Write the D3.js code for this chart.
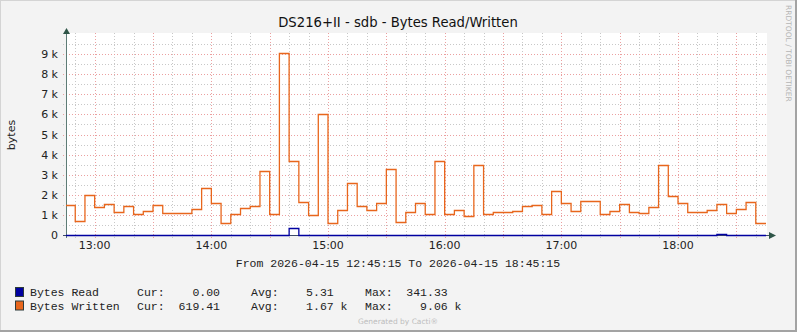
<!DOCTYPE html>
<html>
<head>
<meta charset="utf-8">
<script src="https://cdn.jsdelivr.net/npm/d3@7"></script>
<style>
  body { margin: 0; background: #fff; }
  svg { display: block; }
</style>
</head>
<body>
<svg id="chart"></svg>
<script>
// Data section ****************************************************************
const title = "DS216+II - sdb - Bytes Read/Written";
const startTime = "2026-04-15 12:45:15";
const endTime = "2026-04-15 18:45:15";
const firstSample = "2026-04-15 12:45:00"; // 5 minute samples from here
const stepMinutes = 5;

// Bytes written per 5 min sample
const bytesWritten = [
  1470, 680, 1980, 1380, 1530, 1130, 1430, 1030, 1180, 1480,
  1080, 1080, 1080, 1280, 2350, 1580, 580, 1030, 1350, 1430,
  3200, 1030, 9060, 3680, 1630, 980, 6000, 580, 1230, 2580,
  1430, 1230, 1580, 3280, 630, 1130, 1580, 1030, 3680, 1030,
  1230, 930, 3480, 1030, 1130, 1130, 1180, 1430, 1480, 1030,
  2180, 1580, 1180, 1680, 1680, 1030, 1180, 1530, 1130, 1080,
  1380, 3480, 1930, 1580, 1130, 1130, 1230, 1530, 1080, 1280,
  1630, 619.41
];
// Bytes read: zero except two small blips
const bytesRead = [
  0, 0, 0, 0, 0, 0, 0, 0, 0, 0,
  0, 0, 0, 0, 0, 0, 0, 0, 0, 0,
  0, 0, 0, 341.33, 0, 0, 0, 0, 0, 0,
  0, 0, 0, 0, 0, 0, 0, 0, 0, 0,
  0, 0, 0, 0, 0, 0, 0, 0, 0, 0,
  0, 0, 0, 0, 0, 0, 0, 0, 0, 0,
  0, 0, 0, 0, 0, 0, 0, 41, 0, 0,
  0, 0
];

const yMax = 10000;
const yMajor = [0, 1000, 2000, 3000, 4000, 5000, 6000, 7000, 8000, 9000];
const yMajorLabels = ["0", "1 k", "2 k", "3 k", "4 k", "5 k", "6 k", "7 k", "8 k", "9 k"];
const xLabels = ["13:00", "14:00", "15:00", "16:00", "17:00", "18:00"];

const legendNames = ["Bytes Read", "Bytes Written"];
const legendColors = ["#0000a0", "#e8661c"];
const legendCur = ["0.00", "619.41"];
const legendAvg = ["5.31", "1.67 k"];
const legendMax = ["341.33", "9.06 k"];

// Setup ***********************************************************************
const width = 797, height = 332;
const plot = { left: 66, right: 766, top: 34, bottom: 235 };
const sans = "'DejaVu Sans', sans-serif";
const mono = "'Liberation Mono', 'DejaVu Sans Mono', monospace";

const parse = d3.timeParse("%Y-%m-%d %H:%M:%S");
const t0 = parse(startTime), t1 = parse(endTime), s0 = parse(firstSample);

const svg = d3.select("#chart").attr("width", width).attr("height", height);

const x = d3.scaleTime().domain([t0, t1]).range([plot.left, plot.right]);
const y = d3.scaleLinear().domain([0, yMax]).range([plot.bottom, plot.top]);

// Background and frame
svg.append("rect").attr("width", width).attr("height", height).attr("fill", "#f3f3f3");
svg.append("line").attr("x1", 0).attr("y1", 0.5).attr("x2", width).attr("y2", 0.5).attr("stroke", "#d4d4d4");
svg.append("line").attr("x1", 0.5).attr("y1", 0).attr("x2", 0.5).attr("y2", height).attr("stroke", "#d4d4d4");
svg.append("line").attr("x1", width - 1).attr("y1", 0).attr("x2", width - 1).attr("y2", height).attr("stroke", "#a3a3a3").attr("stroke-width", 2);
svg.append("line").attr("x1", 0).attr("y1", height - 1).attr("x2", width).attr("y2", height - 1).attr("stroke", "#a3a3a3").attr("stroke-width", 2);

// Plot area
svg.append("rect")
    .attr("x", plot.left).attr("y", plot.top - 1)
    .attr("width", plot.right - plot.left + 1).attr("height", plot.bottom - plot.top + 1)
    .attr("fill", "#ffffff");

// Grid ************************************************************************
const grid = svg.append("g");
const minorY = d3.range(500, yMax, 500).filter(v => v % 1000 !== 0);
const minorX = d3.timeMinute.every(10).range(t0, t1).filter(d => d.getMinutes() % 30 !== 0);
const majorX = d3.timeMinute.every(30).range(t0, t1);

grid.selectAll(".minorY").data(minorY).enter().append("line")
    .attr("x1", plot.left - 3).attr("x2", plot.right)
    .attr("y1", d => Math.round(y(d)) + 0.5).attr("y2", d => Math.round(y(d)) + 0.5)
    .attr("stroke", "#c8c8c8").attr("stroke-dasharray", "1,2");

grid.selectAll(".minorX").data(minorX).enter().append("line")
    .attr("x1", d => Math.round(x(d)) + 0.5).attr("x2", d => Math.round(x(d)) + 0.5)
    .attr("y1", plot.top - 1).attr("y2", plot.bottom + 3)
    .attr("stroke", "#c8c8c8").attr("stroke-dasharray", "1,2");

grid.selectAll(".majorY").data(yMajor.slice(1)).enter().append("line")
    .attr("x1", plot.left - 3).attr("x2", plot.right)
    .attr("y1", d => Math.round(y(d)) + 0.5).attr("y2", d => Math.round(y(d)) + 0.5)
    .attr("stroke", "#eba0a0").attr("stroke-dasharray", "1,2");

grid.selectAll(".majorX").data(majorX).enter().append("line")
    .attr("x1", d => Math.round(x(d)) + 0.5).attr("x2", d => Math.round(x(d)) + 0.5)
    .attr("y1", plot.top - 1).attr("y2", plot.bottom + 3)
    .attr("stroke", "#eba0a0").attr("stroke-dasharray", "1,2");

// Axis labels *****************************************************************
svg.selectAll(".ylab").data(yMajor).enter().append("text")
    .attr("x", 58).attr("y", d => y(d) + 4)
    .attr("text-anchor", "end")
    .style("font-family", sans).style("font-size", "11px").style("fill", "#222")
    .text((d, i) => yMajorLabels[i]);

svg.selectAll(".xlab").data(xLabels).enter().append("text")
    .attr("x", d => x(parse("2026-04-15 " + d + ":00")))
    .attr("y", 249)
    .attr("text-anchor", "middle")
    .style("font-family", sans).style("font-size", "11px").style("fill", "#222")
    .text(d => d);

svg.append("text")
    .attr("transform", "translate(15,135) rotate(-90)")
    .attr("text-anchor", "middle")
    .style("font-family", sans).style("font-size", "11px").style("fill", "#222")
    .text("bytes");

svg.append("text")
    .attr("x", 398).attr("y", 27)
    .attr("text-anchor", "middle")
    .style("font-family", sans).style("font-size", "13.2px").style("fill", "#111")
    .text(title);

svg.append("text")
    .attr("transform", "translate(786,5) rotate(90)")
    .style("font-family", sans).style("font-size", "7.5px").style("fill", "#b5b5b5")
    .text("RRDTOOL / TOBI OETIKER");

// Axes ************************************************************************
svg.append("line")
    .attr("x1", plot.left + 0.5).attr("x2", plot.left + 0.5)
    .attr("y1", plot.bottom + 3).attr("y2", plot.top - 1)
    .attr("stroke", "#5e7c76");
svg.append("line")
    .attr("x1", plot.left - 3).attr("x2", plot.right + 4)
    .attr("y1", plot.bottom + 0.5).attr("y2", plot.bottom + 0.5)
    .attr("stroke", "#3c4a6a");
svg.append("path")
    .attr("d", `M${plot.left - 3},${plot.top} L${plot.left + 4},${plot.top} L${plot.left + 0.5},${plot.top - 6} Z`)
    .attr("fill", "#2f5548");
svg.append("path")
    .attr("d", `M${plot.right + 3},${plot.bottom - 3} L${plot.right + 3},${plot.bottom + 4} L${plot.right + 10},${plot.bottom + 0.5} Z`)
    .attr("fill", "#2f5548");

// Series **********************************************************************
function toPoints(values) {
    const pts = values.map((v, i) => {
        let t = d3.timeMinute.offset(s0, i * stepMinutes);
        if (t < t0) t = t0;
        return [t, v];
    });
    pts.push([t1, values[values.length - 1]]);
    return pts;
}

const line = d3.line()
    .x(d => x(d[0]))
    .y(d => Math.round(y(d[1])) + 0.5)
    .curve(d3.curveStepAfter);

svg.append("path")
    .datum(toPoints(bytesRead))
    .attr("d", line)
    .attr("fill", "none").attr("stroke", legendColors[0]).attr("stroke-width", 1.3);

svg.append("path")
    .datum(toPoints(bytesWritten))
    .attr("d", line)
    .attr("fill", "none").attr("stroke", legendColors[1]).attr("stroke-width", 1.3);

// Legend **********************************************************************
svg.append("text")
    .attr("x", 398).attr("y", 267)
    .attr("text-anchor", "middle")
    .style("font-family", mono).style("font-size", "11.5px").style("fill", "#222")
    .attr("xml:space", "preserve")
    .text(`From ${startTime} To ${endTime}`);

const legend = svg.selectAll(".legend").data(legendNames).enter().append("g")
    .attr("transform", (d, i) => `translate(0,${296 + i * 13.5})`);

legend.append("rect")
    .attr("x", 15.5).attr("y", -8.5).attr("width", 8).attr("height", 9)
    .attr("fill", (d, i) => legendColors[i]).attr("stroke", "#2c3a3a");

function legendText(sel, xPos, anchor, fn) {
    sel.append("text")
        .attr("x", xPos).attr("y", 0)
        .attr("text-anchor", anchor)
        .style("font-family", mono).style("font-size", "11.5px").style("fill", "#222")
        .text(fn);
}
legendText(legend, 30, "start", d => d);
legendText(legend, 137, "start", () => "Cur:");
legendText(legend, 220, "end", (d, i) => legendCur[i]);
legendText(legend, 251, "start", () => "Avg:");
legendText(legend, 347.5, "end", (d, i) => legendAvg[i] + (legendAvg[i].endsWith("k") ? "" : "  "));
legendText(legend, 365, "start", () => "Max:");
legendText(legend, 461.5, "end", (d, i) => legendMax[i] + (legendMax[i].endsWith("k") ? "" : "  "));
legend.selectAll("text").attr("xml:space", "preserve");

svg.append("text")
    .attr("x", 398).attr("y", 324)
    .attr("text-anchor", "middle")
    .style("font-family", sans).style("font-size", "7.5px").style("fill", "#bdbdbd")
    .text("Generated by Cacti®");
</script>
</body>
</html>
